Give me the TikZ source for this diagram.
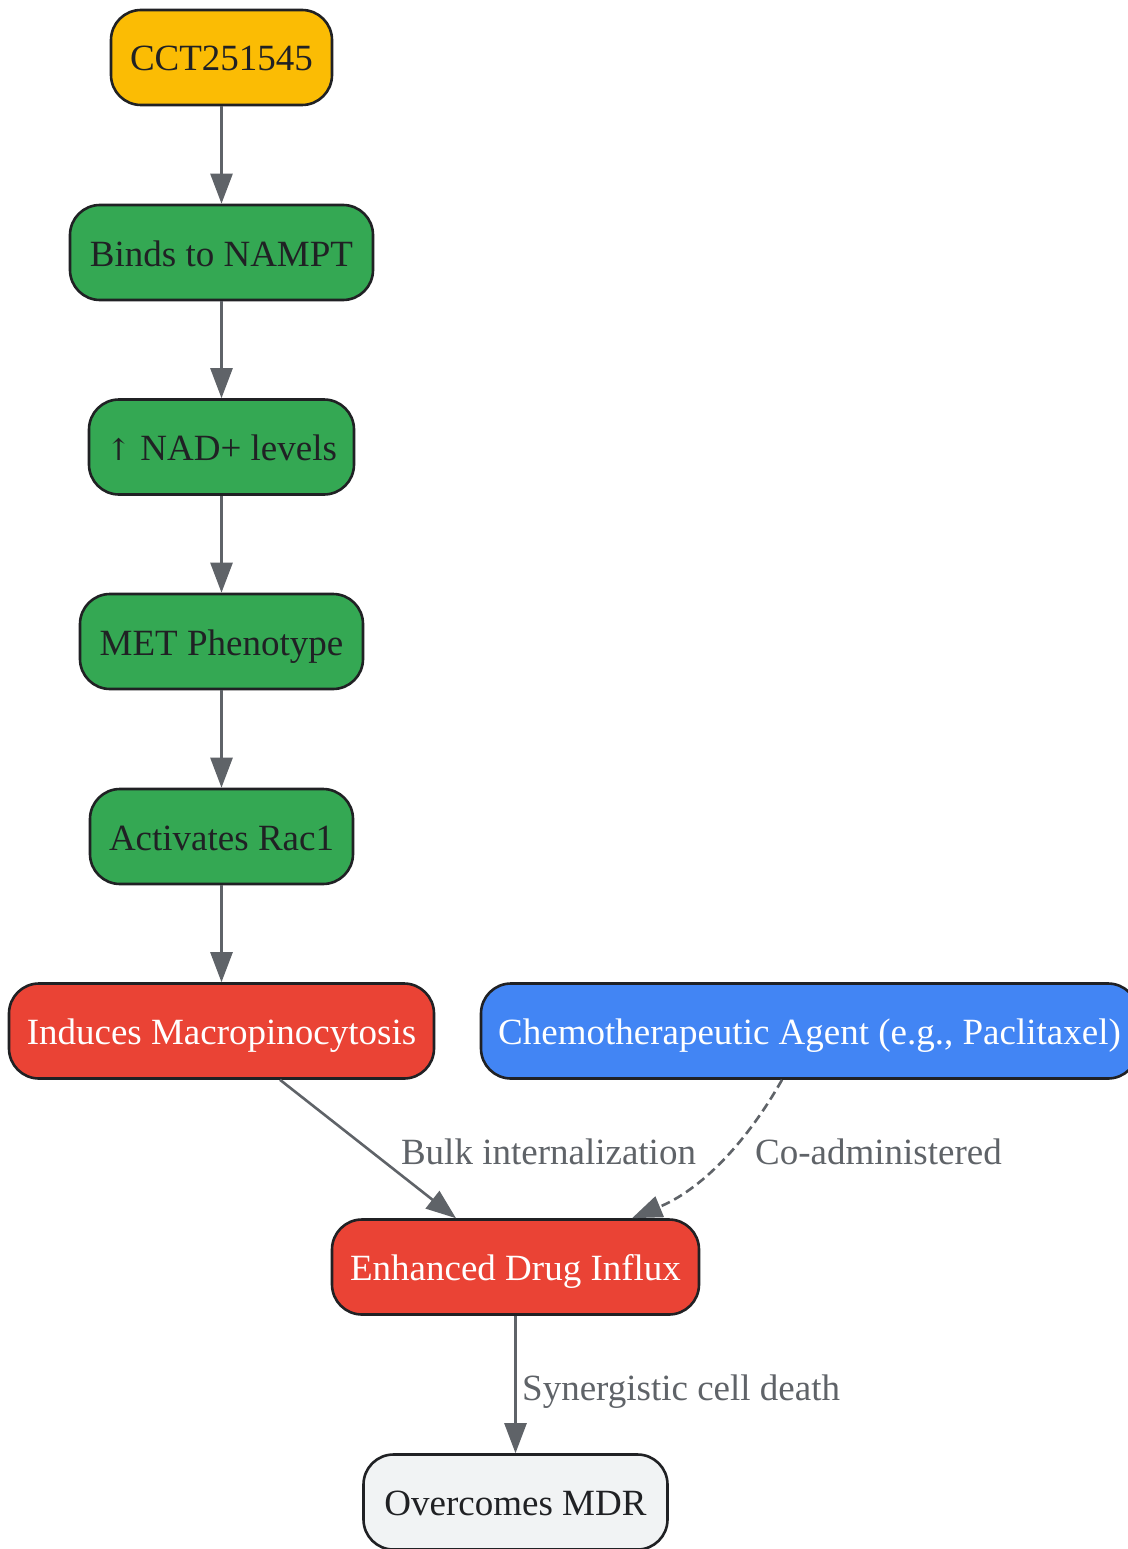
\documentclass[tikz,border=0pt]{standalone}
\usepackage{fontspec}
\setmainfont{Liberation Serif}
\usetikzlibrary{arrows.meta,calc}
\definecolor{cyellow}{HTML}{FBBC04}
\definecolor{cgreen}{HTML}{34A853}
\definecolor{cred}{HTML}{EA4335}
\definecolor{cblue}{HTML}{4285F4}
\definecolor{cgrey}{HTML}{F1F3F4}
\definecolor{cdark}{HTML}{202124}
\definecolor{cedge}{HTML}{5F6368}
\begin{document}
\begin{tikzpicture}[x=1pt,y=-1pt,
  box/.style={draw=cdark,line width=2.6pt,rounded corners=30pt,minimum height=95pt,
    inner sep=0pt,font=\fontsize{37}{40}\selectfont,text height=34pt,text depth=7pt},
  darktext/.style={text=cdark},
  lighttext/.style={text=white},
  conn/.style={draw=cedge,line width=2.6pt,-{Triangle[length=30pt,width=22pt]}},
  elabel/.style={text=cedge,inner sep=0pt,font=\fontsize{37}{40}\selectfont,text height=34pt,text depth=7pt}
]
\useasboundingbox[fill=white] (0,0) rectangle (1127,1549);
\node[box,darktext,fill=cyellow,minimum width=221pt] (cct) at (221.5,57.5) {CCT251545};
\node[box,darktext,fill=cgreen,minimum width=303pt] (nampt) at (221.5,252.5) {Binds to NAMPT};
\node[box,darktext,fill=cgreen,minimum width=265pt] (nad) at (221.5,447) {{\fontspec{DejaVu Serif}\fontsize{30}{40}\selectfont↑} NAD+ levels};
\node[box,darktext,fill=cgreen,minimum width=283pt] (met) at (221.5,641.5) {MET Phenotype};
\node[box,darktext,fill=cgreen,minimum width=263pt] (rac) at (221.5,836.5) {Activates Rac1};
\node[box,lighttext,fill=cred,minimum width=425pt] (macro) at (221.5,1031) {Induces Macropinocytosis};
\node[box,lighttext,fill=cblue,minimum width=657pt] (chemo) at (809.5,1031) {Chemotherapeutic Agent (e.g., Paclitaxel)};
\node[box,lighttext,fill=cred,minimum width=367pt] (enh) at (515.5,1267) {Enhanced Drug Influx};
\node[box,darktext,fill=cgrey,minimum width=304pt] (mdr) at (515.5,1502) {Overcomes MDR};

\draw[conn] (cct) -- (nampt);
\draw[conn] (nampt) -- (nad);
\draw[conn] (nad) -- (met);
\draw[conn] (met) -- (rac);
\draw[conn] (rac) -- (macro);
\draw[conn] ($(macro.south)+(58.5,0)$) -- ($(enh.north)+(-59.5,0)$);
\draw[conn,dashed,dash pattern=on 9pt off 5pt] ($(chemo.south)+(-27.5,0)$) .. controls (745,1145) and (700,1190) .. ($(enh.north)+(116.5,0)$);
\draw[conn] (enh) -- (mdr);

\node[elabel] (lb1) at (548.5,1151) {Bulk internalization};
\node[elabel] (lb2) at (878.5,1151) {Co-administered};
\node[elabel,anchor=west] (lb3) at (522,1387) {Synergistic cell death};
\end{tikzpicture}
\end{document}
